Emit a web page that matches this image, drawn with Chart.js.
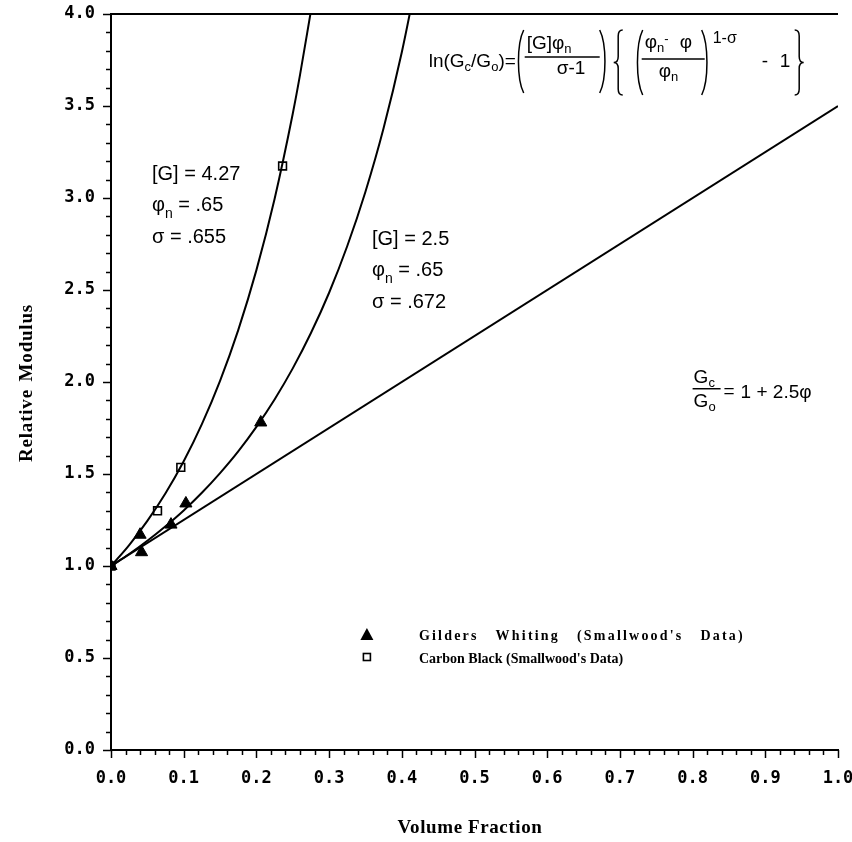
<!DOCTYPE html>
<html>
<head>
<meta charset="utf-8">
<script src="https://cdn.jsdelivr.net/npm/chart.js@4/dist/chart.umd.min.js"></script>
<style>
  html, body { margin: 0; padding: 0; background: #fff; }
</style>
</head>
<body>
<canvas id="modulus" width="852" height="842"></canvas>
<script>
  // straight line Gc/Go = 1 + 2.5 phi
  const linePhi = [0, 1];
  const lineRel = [1, 3.5];

  // curve for [G] = 4.27, phi_n = .65, sigma = .655
  const curveAPhi = [0, 0.025, 0.05, 0.075, 0.1, 0.125, 0.15, 0.175, 0.2, 0.225, 0.25, 0.26, 0.275];
  const curveARel = [1, 1.114, 1.245, 1.395, 1.569, 1.771, 2.006, 2.282, 2.608, 2.995, 3.458, 3.669, 4.017];

  // curve for [G] = 2.5, phi_n = .65, sigma = .672
  const curveBPhi = [0, 0.025, 0.05, 0.075, 0.1, 0.125, 0.15, 0.175, 0.2, 0.225, 0.25, 0.275, 0.3, 0.325, 0.35, 0.375, 0.4, 0.42];
  const curveBRel = [1, 1.065, 1.137, 1.216, 1.302, 1.398, 1.505, 1.623, 1.756, 1.905, 2.074, 2.266, 2.485, 2.739, 3.034, 3.380, 3.792, 4.181];

  // measured points
  const gildersPhi = [0, 0.040, 0.042, 0.0825, 0.103, 0.206];
  const gildersRel = [1, 1.17, 1.075, 1.225, 1.34, 1.78];
  const carbonPhi = [0, 0.064, 0.096, 0.236];
  const carbonRel = [1, 1.30, 1.536, 3.174];

  const legendLabels = ["Gilders Whiting (Smallwood's Data)", "Carbon Black (Smallwood's Data)"];
  const xTitle = 'Volume Fraction';
  const yTitle = 'Relative Modulus';

  const pts = (xs, ys) => xs.map((x, i) => ({ x: x, y: ys[i] }));

  const tickFont = { family: '"DejaVu Sans Mono"', size: 17, weight: 'bold' };
  const sans = '"Liberation Sans"';

  function txt(ctx, s, x, y, font) {
    ctx.font = font;
    ctx.fillText(s, x, y);
    return x + ctx.measureText(s).width;
  }

  // spread text between x0 and x1: fixed letter spacing, rest goes into the word gaps
  function spread(ctx, s, x0, x1, y, font, ls) {
    ctx.font = font;
    ctx.letterSpacing = ls + 'px';
    ctx.wordSpacing = '0px';
    const w = ctx.measureText(s).width;
    const gaps = s.split(' ').length - 1;
    const ws = gaps ? Math.max(0, (x1 - x0 - w) / gaps) : 0;
    ctx.wordSpacing = ws.toFixed(2) + 'px';
    ctx.fillText(s, x0, y);
    ctx.letterSpacing = '0px';
    ctx.wordSpacing = '0px';
  }

  function paren(ctx, x, top, bot, dir) {
    // dir 1 = '(' , -1 = ')'
    const w = 7, h = bot - top;
    const x0 = dir > 0 ? x + w : x;
    const x1 = dir > 0 ? x : x + w;
    ctx.beginPath();
    ctx.moveTo(x0, top);
    ctx.bezierCurveTo(x1, top + h * 0.22, x1, bot - h * 0.22, x0, bot);
    ctx.stroke();
  }

  function brace(ctx, x, top, bot, dir) {
    const w = 9, mid = (top + bot) / 2;
    const xo = dir > 0 ? x + w : x;
    const xm = x + w / 2;
    const xp = dir > 0 ? x : x + w;
    ctx.beginPath();
    ctx.moveTo(xo, top);
    ctx.quadraticCurveTo(xm, top, xm, top + 6);
    ctx.lineTo(xm, mid - 6);
    ctx.quadraticCurveTo(xm, mid, xp, mid);
    ctx.quadraticCurveTo(xm, mid, xm, mid + 6);
    ctx.lineTo(xm, bot - 6);
    ctx.quadraticCurveTo(xm, bot, xo, bot);
    ctx.stroke();
  }

  const decorations = {
    id: 'decorations',
    afterDraw(chart) {
      const ctx = chart.ctx;
      const xs = chart.scales.x, ys = chart.scales.y;
      const area = chart.chartArea;
      const X = v => xs.getPixelForValue(v);
      const Y = v => ys.getPixelForValue(v);
      ctx.save();
      ctx.strokeStyle = '#000';
      ctx.fillStyle = '#000';

      // top frame line
      ctx.lineWidth = 2;
      ctx.beginPath();
      ctx.moveTo(area.left, area.top);
      ctx.lineTo(area.right, area.top);
      ctx.stroke();

      // ticks, major and minor
      ctx.lineWidth = 1.5;
      for (let i = 0; i <= 50; i++) {
        const px = Math.round(X(i / 50)) + 0.5;
        const len = i % 5 === 0 ? 8 : 5;
        ctx.beginPath();
        ctx.moveTo(px, area.bottom);
        ctx.lineTo(px, area.bottom + len);
        ctx.stroke();
      }
      for (let i = 0; i <= 40; i++) {
        const py = Math.round(Y(i / 10)) + 0.5;
        const len = i % 5 === 0 ? 8 : 5;
        ctx.beginPath();
        ctx.moveTo(area.left, py);
        ctx.lineTo(area.left - len, py);
        ctx.stroke();
      }

      // axis titles
      const tf = 'bold 19px "Liberation Serif"';
      ctx.textBaseline = 'middle';
      const cx = (area.left + area.right) / 2;
      spread(ctx, xTitle, cx - 77, cx + 67, 828, tf, 0.6);
      ctx.save();
      ctx.translate(27, (area.top + area.bottom) / 2);
      ctx.rotate(-Math.PI / 2);
      spread(ctx, yTitle, -80, 78, 0, tf, 0.8);
      ctx.restore();
      ctx.textBaseline = 'alphabetic';

      // parameter notes
      const f20 = '20px ' + sans, f14 = '14px ' + sans;
      const notes = [
        { x: 0.0564, y: 3.098, g: '4.27', s: '.655' },
        { x: 0.359, y: 2.745, g: '2.5', s: '.672' }
      ];
      notes.forEach(n => {
        const nx = X(n.x), ny = Y(n.y);
        txt(ctx, '[G] = ' + n.g, nx, ny, f20);
        let x = txt(ctx, 'φ', nx, ny + 31, f20);
        x = txt(ctx, 'n', x, ny + 38, f14);
        txt(ctx, ' = .65', x, ny + 31, f20);
        txt(ctx, 'σ = ' + n.s, nx, ny + 63, f20);
      });

      // formula
      const fx = X(0.437), fy = Y(3.712);
      const f19 = '19px ' + sans, f13 = '13px ' + sans, f16 = '16px ' + sans;
      ctx.lineWidth = 1.5;
      let x = txt(ctx, 'ln(G', fx, fy, f19);
      x = txt(ctx, 'c', x, fy + 4, f13);
      x = txt(ctx, '/G', x, fy, f19);
      x = txt(ctx, 'o', x, fy + 4, f13);
      txt(ctx, ')=', x, fy, f19);
      paren(ctx, fx + 88, fy - 37, fy + 26, 1);
      x = txt(ctx, '[G]φ', fx + 98, fy - 18, f19);
      txt(ctx, 'n', x, fy - 14, f13);
      ctx.beginPath(); ctx.moveTo(fx + 96, fy - 10); ctx.lineTo(fx + 171, fy - 10); ctx.stroke();
      txt(ctx, 'σ-1', fx + 128, fy + 7, f19);
      paren(ctx, fx + 171, fy - 37, fy + 26, -1);
      brace(ctx, fx + 185, fy - 37, fy + 28, 1);
      paren(ctx, fx + 207, fy - 37, fy + 28, 1);
      x = txt(ctx, 'φ', fx + 216, fy - 19, f19);
      x = txt(ctx, 'n', x, fy - 15, f13);
      x = txt(ctx, '-', x, fy - 24, f13);
      txt(ctx, ' φ', x + 6, fy - 19, f19);
      ctx.beginPath(); ctx.moveTo(fx + 213, fy - 8); ctx.lineTo(fx + 276, fy - 8); ctx.stroke();
      x = txt(ctx, 'φ', fx + 230, fy + 10, f19);
      txt(ctx, 'n', x, fy + 14, f13);
      paren(ctx, fx + 273, fy - 37, fy + 28, -1);
      txt(ctx, '1-σ', fx + 284, fy - 24, f16);
      txt(ctx, '-', fx + 333, fy, f19);
      txt(ctx, '1', fx + 351, fy, f19);
      brace(ctx, fx + 366, fy - 37, fy + 28, -1);

      // straight line equation
      const ex = X(0.8), ey = Y(1.92);
      x = txt(ctx, 'G', ex + 1, ey - 14, f19);
      txt(ctx, 'c', x, ey - 10, f13);
      ctx.beginPath(); ctx.moveTo(ex, ey - 8); ctx.lineTo(ex + 28, ey - 8); ctx.stroke();
      x = txt(ctx, 'G', ex + 1, ey + 10, f19);
      txt(ctx, 'o', x, ey + 14, f13);
      txt(ctx, '=', ex + 31, ey, f19);
      txt(ctx, '1 + 2.5φ', ex + 48, ey + 1, f19);

      // legend
      const lx = X(0.352), ly = Y(0.625);
      ctx.beginPath();
      ctx.moveTo(lx, ly - 7);
      ctx.lineTo(lx + 6.5, ly + 5);
      ctx.lineTo(lx - 6.5, ly + 5);
      ctx.closePath();
      ctx.fill();
      ctx.lineWidth = 1.6;
      ctx.strokeRect(lx - 3.5, ly + 18.5, 7, 7);
      const lf = 'bold 14px "Liberation Serif"';
      spread(ctx, legendLabels[0], lx + 52, lx + 378, ly + 5, lf, 2.2);
      spread(ctx, legendLabels[1], lx + 52, lx + 256, ly + 28, lf, 0);
      ctx.restore();
    }
  };

  new Chart(document.getElementById('modulus'), {
    type: 'scatter',
    data: {
      datasets: [
        { data: pts(linePhi, lineRel), showLine: true, borderColor: '#000', borderWidth: 2, pointRadius: 0 },
        { data: pts(curveAPhi, curveARel), showLine: true, borderColor: '#000', borderWidth: 2, pointRadius: 0, cubicInterpolationMode: 'monotone' },
        { data: pts(curveBPhi, curveBRel), showLine: true, borderColor: '#000', borderWidth: 2, pointRadius: 0, cubicInterpolationMode: 'monotone' },
        { data: pts(gildersPhi, gildersRel), pointStyle: 'triangle', pointRadius: 7, backgroundColor: '#000', borderColor: '#000', borderWidth: 1 },
        { data: pts(carbonPhi, carbonRel), pointStyle: 'rect', pointRadius: 5.5, backgroundColor: '#fff', borderColor: '#000', borderWidth: 1.6 }
      ]
    },
    options: {
      responsive: false,
      animation: false,
      layout: { padding: { top: 14, right: 14, left: 0, bottom: 0 } },
      plugins: { legend: { display: false }, tooltip: { enabled: false } },
      scales: {
        x: {
          type: 'linear', min: 0, max: 1,
          afterFit: s => { s.height = 92; s.paddingLeft = 0; s.paddingRight = 0; },
          ticks: { stepSize: 0.1, padding: 18, color: '#000', font: tickFont, maxRotation: 0, autoSkip: false,
                   callback: v => v.toFixed(1) },
          grid: { display: false, drawTicks: false },
          border: { display: true, color: '#000', width: 2 }
        },
        y: {
          type: 'linear', min: 0, max: 4,
          afterFit: s => { s.width = 111; s.paddingTop = 0; s.paddingBottom = 0; },
          ticks: { stepSize: 0.5, padding: 16, color: '#000', font: tickFont, autoSkip: false,
                   callback: v => v.toFixed(1) },
          grid: { display: false, drawTicks: false },
          border: { display: true, color: '#000', width: 2 }
        }
      }
    },
    plugins: [decorations]
  });
</script>
</body>
</html>
